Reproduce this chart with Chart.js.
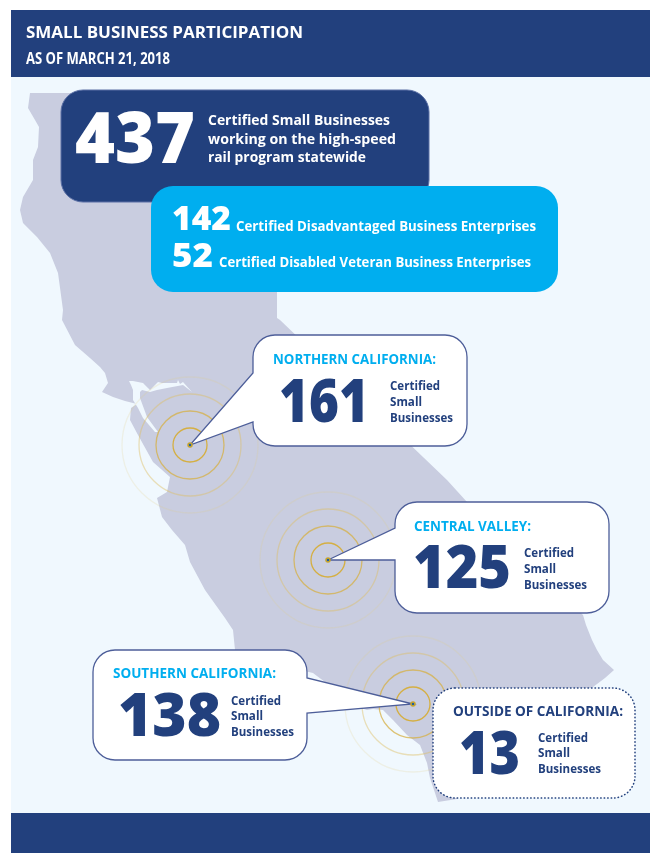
<!DOCTYPE html>
<html>
<head>
<meta charset="utf-8">
<title>Small Business Participation</title>
<script src="https://cdn.jsdelivr.net/npm/chart.js@4"></script>
<style>
  html, body { margin: 0; padding: 0; background: #fff; }
  #page { position: relative; width: 650px; height: 853px; overflow: hidden; }
  #chart { position: absolute; left: 0; top: 0; }
  .t { position: absolute; white-space: nowrap; font-family: "Open Sans", sans-serif; transform-origin: 0 0; }
</style>
</head>
<body>
<div id="page"><canvas id="chart" width="650" height="853"></canvas></div>
<script>
const title = 'SMALL BUSINESS PARTICIPATION';
const subtitle = 'AS OF MARCH 21, 2018';

const totalCount = 437;
const totalLines = ['Certified Small Businesses', 'working on the high-speed', 'rail program statewide'];
const certCounts = [142, 52];
const certLabels = ['Certified Disadvantaged Business Enterprises', 'Certified Disabled Veteran Business Enterprises'];

const regions = ['NORTHERN CALIFORNIA:', 'CENTRAL VALLEY:', 'SOUTHERN CALIFORNIA:', 'OUTSIDE OF CALIFORNIA:'];
const regionCounts = [161, 125, 138, 13];
const unitLines = ['Certified', 'Small', 'Businesses'];

// hubs on the map, in the map's own units
const hubX = [190, 328, 413];
const hubY = [445, 560, 704];
const ringRadii = [17, 34, 51, 68];

const mapX = [30, 28, 35, 39, 38, 33, 33, 23, 20, 23, 37, 50, 58, 63, 62, 75, 90, 100, 105, 108, 102, 113, 125, 137, 131, 130, 138, 153, 170, 167, 157, 162, 172, 185, 190, 205, 225, 233, 235, 270, 300, 313, 325, 345, 367, 373, 383, 393, 407, 420, 427, 430, 435, 438, 457, 520, 593, 605, 614, 603, 597, 592, 588, 586, 583, 467, 447, 280, 277, 277];
const mapY = [93, 108, 120, 127, 147, 160, 180, 197, 210, 223, 237, 253, 273, 310, 320, 345, 358, 367, 373, 383, 392, 397, 401, 404, 408, 420, 435, 462, 477, 492, 498, 517, 530, 545, 562, 590, 618, 630, 650, 660, 670, 673, 682, 703, 710, 709, 710, 720, 735, 745, 763, 778, 793, 802, 799, 750, 687, 678, 670, 660, 650, 640, 630, 625, 615, 502, 480, 320, 318, 93];
const bayX = [129, 133, 143, 148, 150, 158, 162, 177, 178, 180, 183, 192, 183, 167, 157, 150, 142, 140, 140, 147, 158, 155, 143, 138, 133, 133, 131];
const bayY = [381, 381, 383, 388, 390, 382, 383, 383, 380, 384, 382, 392, 385, 388, 390, 392, 390, 392, 398, 417, 432, 432, 418, 408, 400, 390, 385];

const NAVY = '#22407d';
const CYAN = '#00aeef';
const PANEL = '#f0f8fe';
const LAND = '#c9cde0';
const EDGE = '#4d5e99';
const ringColors = ['rgba(214,172,50,0.9)', 'rgba(214,176,70,0.75)', 'rgba(222,190,100,0.45)', 'rgba(225,205,130,0.2)'];

// boxes: x, y, w, h
const summaryBoxes = [
  { x: 61, y: 90, w: 368, h: 112, color: NAVY, line: '#5a6fa5' },
  { x: 151, y: 186, w: 407, h: 106, color: CYAN }
];
const calloutBoxes = [
  { x: 253, y: 335, w: 214, h: 111, side: 'left', a: 373, b: 422, hub: 0 },
  { x: 395, y: 502, w: 214, h: 111, side: 'left', a: 528, b: 560, hub: 1 },
  { x: 93, y: 650, w: 214, h: 110, side: 'right', a: 678, b: 713, hub: 2 },
  { x: 433, y: 688, w: 202, h: 110, dotted: true }
];

function toPoints(xs, ys) {
  return xs.map((x, i) => ({ x: x, y: ys[i] }));
}

function boxPath(ctx, b, sx, sy, tip) {
  const r = 22;
  const left = sx(b.x), right = sx(b.x + b.w), top = sy(b.y), bottom = sy(b.y + b.h);
  ctx.beginPath();
  ctx.moveTo(left + r, top);
  ctx.arcTo(right, top, right, bottom, r);
  if (tip && b.side === 'right') {
    ctx.lineTo(right, sy(b.a));
    ctx.lineTo(tip.x, tip.y);
    ctx.lineTo(right, sy(b.b));
  }
  ctx.arcTo(right, bottom, left, bottom, r);
  ctx.arcTo(left, bottom, left, top, r);
  if (tip && b.side === 'left') {
    ctx.lineTo(left, sy(b.b));
    ctx.lineTo(tip.x, tip.y);
    ctx.lineTo(left, sy(b.a));
  }
  ctx.arcTo(left, top, right, top, r);
  ctx.closePath();
}

const panelsPlugin = {
  id: 'panels',
  beforeDraw(chart) {
    const { ctx, scales: { x, y } } = chart;
    const band = (y0, y1, color) => {
      ctx.fillStyle = color;
      ctx.fillRect(x.getPixelForValue(11), y.getPixelForValue(y0), x.getPixelForValue(650) - x.getPixelForValue(11), y.getPixelForValue(y1) - y.getPixelForValue(y0));
    };
    band(77, 813, PANEL);
    band(10, 77, NAVY);
    band(813, 853, NAVY);
  },
  // boxes go over the rings but under the hub dots
  beforeDatasetDraw(chart, args) {
    if (args.meta.label !== 'hubs') return;
    const { ctx, scales: { x, y } } = chart;
    const sx = v => x.getPixelForValue(v);
    const sy = v => y.getPixelForValue(v);
    ctx.save();
    summaryBoxes.forEach(b => {
      boxPath(ctx, b, sx, sy);
      ctx.fillStyle = b.color;
      ctx.fill();
      if (b.line) {
        ctx.lineWidth = 1;
        ctx.strokeStyle = b.line;
        ctx.stroke();
      }
    });
    calloutBoxes.forEach(b => {
      const tip = b.hub === undefined ? null : { x: sx(hubX[b.hub]), y: sy(hubY[b.hub]) };
      boxPath(ctx, b, sx, sy, tip);
      ctx.fillStyle = '#fff';
      ctx.fill();
      if (b.dotted) {
        ctx.setLineDash([0.5, 3]);
        ctx.lineCap = 'round';
        ctx.lineWidth = 1.5;
        ctx.strokeStyle = NAVY;
      } else {
        ctx.setLineDash([]);
        ctx.lineWidth = 1.3;
        ctx.strokeStyle = EDGE;
      }
      ctx.stroke();
    });
    ctx.restore();
  }
};

const ringSets = ringRadii.map((radius, i) => ({
  label: 'ring' + i,
  data: toPoints(hubX, hubY),
  order: 4 - i,
  showLine: false,
  pointRadius: radius,
  pointBackgroundColor: 'transparent',
  pointBorderColor: ringColors[i],
  pointBorderWidth: 1.3,
  clip: false
}));

new Chart(document.getElementById('chart').getContext('2d'), {
  type: 'scatter',
  data: {
    datasets: [
      { label: 'hubs', data: toPoints(hubX, hubY), order: 0, pointRadius: 2, pointBackgroundColor: '#1f5f9e', pointBorderColor: '#c9a52c', pointBorderWidth: 1.5 },
      ...ringSets,
      { label: 'bay', data: toPoints(bayX, bayY), order: 8, showLine: true, fill: 'shape', backgroundColor: PANEL, borderWidth: 0, pointRadius: 0 },
      { label: 'california', data: toPoints(mapX, mapY), order: 9, showLine: true, fill: 'shape', backgroundColor: LAND, borderWidth: 0, pointRadius: 0 }
    ]
  },
  plugins: [panelsPlugin],
  options: {
    responsive: false,
    animation: false,
    events: [],
    layout: { padding: 0, autoPadding: false },
    plugins: { legend: { display: false }, tooltip: { enabled: false }, title: { display: false } },
    scales: {
      x: { type: 'linear', min: 0, max: 650, display: false },
      y: { type: 'linear', min: 0, max: 853, reverse: true, display: false }
    }
  }
});

// text lines are placed by baseline and squeezed to the reference width
const page = document.getElementById('page');
const measure = document.createElement('canvas').getContext('2d');

function addText(text, x, base, size, color, width, weight = 700) {
  measure.font = `${weight} ${size}px "Open Sans"`;
  const m = measure.measureText(text);
  const span = document.createElement('div');
  span.className = 't';
  span.textContent = text;
  span.style.left = x + 'px';
  span.style.top = (base - m.fontBoundingBoxAscent) + 'px';
  span.style.fontSize = size + 'px';
  span.style.fontWeight = weight;
  span.style.lineHeight = (m.fontBoundingBoxAscent + m.fontBoundingBoxDescent) + 'px';
  span.style.color = color;
  span.style.transform = `scaleX(${width / m.width})`;
  page.appendChild(span);
}

addText(title, 26, 38, 16, '#fff', 277);
addText(subtitle, 26, 64, 15.5, '#fff', 144);

addText(String(totalCount), 75, 163, 70, '#fff', 120, 800);
addText(totalLines[0], 208, 125, 14, '#fff', 182);
addText(totalLines[1], 208, 144, 14, '#fff', 188);
addText(totalLines[2], 208, 162, 14, '#fff', 158);

addText(String(certCounts[0]), 172, 230, 34, '#fff', 59, 800);
addText(certLabels[0], 236, 230.5, 14, '#fff', 300);
addText(String(certCounts[1]), 172, 267, 34, '#fff', 41, 800);
addText(certLabels[1], 219, 267, 14, '#fff', 312);

const regionLayout = [
  { x: 273, base: 364, w: 163, numX: 279, numBase: 422, numW: 90, unitX: 390, unitBase: [390, 406, 422], color: CYAN },
  { x: 414, base: 531, w: 117, numX: 413, numBase: 588, numW: 98, unitX: 524, unitBase: [557, 573, 589], color: CYAN },
  { x: 113, base: 678, w: 163, numX: 118, numBase: 736, numW: 103, unitX: 231, unitBase: [705, 720, 736], color: CYAN },
  { x: 453, base: 716, w: 170, numX: 459, numBase: 774, numW: 61, unitX: 538, unitBase: [742, 757, 773], color: NAVY }
];
const unitWidths = [50, 32, 63];

regions.forEach((name, i) => {
  const l = regionLayout[i];
  addText(name, l.x, l.base, 13.5, l.color, l.w);
  addText(String(regionCounts[i]), l.numX, l.numBase, 61, NAVY, l.numW, 800);
  unitLines.forEach((line, j) => addText(line, l.unitX, l.unitBase[j], 12, NAVY, unitWidths[j]));
});
</script>
</body>
</html>
